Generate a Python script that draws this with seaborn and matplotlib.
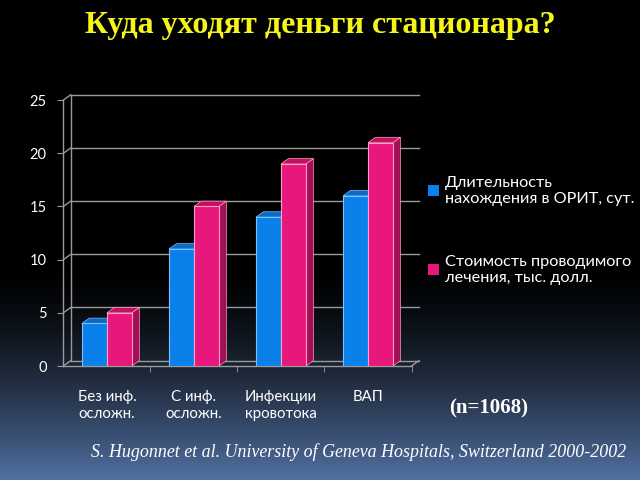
import numpy as np
import pandas as pd
import seaborn as sns
import matplotlib.pyplot as plt
from matplotlib.patches import Polygon

# Data
categories = ["Без инф.\nосложн.", "С инф.\nосложн.", "Инфекции\nкровотока", "ВАП"]
series_names = ["Длительность\nнахождения в ОРИТ, сут.",
                "Стоимость проводимого\nлечения, тыс. долл."]
days_icu = [4, 11, 14, 16]
cost_kusd = [5, 15, 19, 21]
y_ticks = [0, 5, 10, 15, 20, 25]

df = pd.DataFrame({
    "category": categories * 2,
    "series": [series_names[0]] * 4 + [series_names[1]] * 4,
    "value": days_icu + cost_kusd,
})

blue, pink = "#0a80ea", "#e8177b"
side_colors = ["#0758a8", "#a10f55"]
top_colors = ["#0a6ac6", "#c2135f"]
edge_colors = ["#7cc0ff", "#ff9cc8"]
grid_color = "#9a9a9a"
label_font = ["Lato", "DejaVu Sans"]

fig = plt.figure(figsize=(6.4, 4.8), dpi=100)
fig.patch.set_facecolor("black")

# background gradient, black at top to steel blue at bottom
bg = fig.add_axes([0, 0, 1, 1], zorder=-10)
r = np.linspace(0, 1, 480)
t = np.clip((r - 0.55) / 0.45, 0, 1) ** 1.5
bottom = np.array([0.32, 0.44, 0.63])
grad = (t[:, None] * bottom[None, :])[:, None, :].repeat(2, axis=1)
bg.imshow(grad, aspect="auto", extent=[0, 1, 0, 1])
bg.axis("off")

ax = fig.add_axes([0.099, 0.2375, 0.544, 0.554])
ax.set_facecolor("none")

sns.barplot(data=df, x="category", y="value", hue="series",
            palette=[blue, pink], saturation=1, width=0.575, gap=0, ax=ax, zorder=3)

ax.set_xlim(-0.5, 3.5)
ax.set_ylim(0, 25)

# 3D depth in data units
dx, dy = 0.085, 0.5

for i, cont in enumerate(ax.containers):
    for bar in cont:
        x0, w, h = bar.get_x(), bar.get_width(), bar.get_height()
        bar.set_edgecolor(edge_colors[i])
        bar.set_linewidth(0.8)
        bar.set_zorder(3 + i * 2)
        side = Polygon([(x0 + w, 0), (x0 + w + dx, dy), (x0 + w + dx, h + dy), (x0 + w, h)],
                       closed=True, facecolor=side_colors[i], edgecolor=edge_colors[i],
                       linewidth=0.5, zorder=2 + i * 2, clip_on=False)
        top = Polygon([(x0, h), (x0 + dx, h + dy), (x0 + w + dx, h + dy), (x0 + w, h)],
                      closed=True, facecolor=top_colors[i], edgecolor=edge_colors[i],
                      linewidth=0.5, zorder=2 + i * 2, clip_on=False)
        ax.add_patch(side)
        ax.add_patch(top)

# back-wall gridlines and connectors
x_left, x_right = -0.5, 3.5
for yv in y_ticks:
    ax.plot([x_left + dx, x_right + dx], [yv + dy, yv + dy], color=grid_color,
            lw=1, zorder=1, clip_on=False)
    ax.plot([x_left, x_left + dx], [yv, yv + dy], color=grid_color, lw=1,
            zorder=1, clip_on=False)
ax.plot([x_right, x_right + dx], [0, dy], color=grid_color, lw=1, zorder=1, clip_on=False)
ax.plot([x_left + dx, x_left + dx], [dy, 25 + dy], color=grid_color, lw=1, zorder=1,
        clip_on=False)

for s in ["top", "right"]:
    ax.spines[s].set_visible(False)
for s in ["left", "bottom"]:
    ax.spines[s].set_color(grid_color)
    ax.spines[s].set_linewidth(1)

ax.set_yticks(y_ticks)
ax.set_xticks(range(len(categories)))
ax.set_xticklabels(categories, family=label_font, fontsize=10.8, color="white",
                   linespacing=1.3)
ax.set_xticks([0.5, 1.5, 2.5, 3.5], minor=True)
ax.tick_params(axis="x", which="major", length=0, pad=17)
ax.tick_params(axis="x", which="minor", length=4, color=grid_color, direction="out")
ax.tick_params(axis="y", length=4, color=grid_color, labelcolor="white", labelsize=10.5, pad=8)
for lab in ax.get_yticklabels():
    lab.set_family(label_font)
ax.set_xlabel("")
ax.set_ylabel("")

leg = ax.legend(loc="center left", bbox_to_anchor=(1.005, 0.51), frameon=False,
                handlelength=0.7, handleheight=0.7, handletextpad=0.35,
                labelspacing=3.0, prop={"family": label_font, "size": 11.7})
for txt in leg.get_texts():
    txt.set_color("white")

fig.text(0.5, 0.946, "Куда уходят деньги стационара?", ha="center", va="center",
         color="#f5f51c", fontsize=23, fontweight="bold", family="Liberation Serif")
fig.text(0.764, 0.149, "(n=1068)", ha="center", va="center", color="white",
         fontsize=15, fontweight="bold", family="Liberation Serif")
fig.text(0.56, 0.058, "S. Hugonnet et al. University of Geneva Hospitals, Switzerland 2000-2002",
         ha="center", va="center", color="white", fontsize=12.9, style="italic",
         family="Liberation Serif")

fig.savefig("out.png", dpi=100, facecolor=fig.get_facecolor())
